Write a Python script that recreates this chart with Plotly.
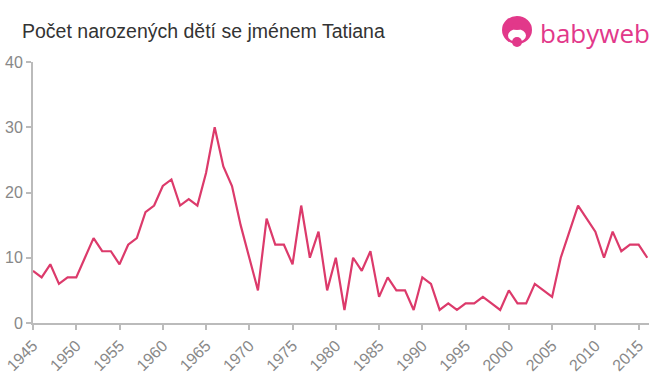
import plotly.graph_objects as go

years = list(range(1945, 2017))
counts = [8, 7, 9, 6, 7, 7, 10, 13, 11, 11, 9, 12, 13, 17, 18, 21, 22, 18, 19, 18,
          23, 30, 24, 21, 15, 10, 5, 16, 12, 12, 9, 18, 10, 14, 5, 10, 2, 10, 8, 11,
          4, 7, 5, 5, 2, 7, 6, 2, 3, 2, 3, 3, 4, 3, 2, 5, 3, 3, 6, 5,
          4, 10, 14, 18, 16, 14, 10, 14, 11, 12, 12, 10]
x_ticks = list(range(1945, 2016, 5))
y_ticks = [0, 10, 20, 30, 40]

fig = go.Figure()
fig.add_trace(go.Scatter(x=years, y=counts, mode="lines",
                         line=dict(color="#dc3a6b", width=2.2), hoverinfo="x+y"))

fig.update_layout(
    width=660, height=375,
    margin=dict(l=33, r=11, t=62, b=52),
    paper_bgcolor="white", plot_bgcolor="white",
    showlegend=False,
    font=dict(family="Liberation Sans, Arial, sans-serif", color="#888"),
    xaxis=dict(range=[1945, 2016.2], tickvals=x_ticks, tickangle=-45, automargin=False,
               showgrid=False, zeroline=False, showline=True, linecolor="#bbb", linewidth=2,
               ticks="outside", tickcolor="#bbb", ticklen=5, tickwidth=2,
               tickfont=dict(size=16, color="#888")),
    yaxis=dict(range=[0, 40], tickvals=y_ticks, automargin=False,
               showgrid=False, zeroline=False, showline=True, linecolor="#bbb", linewidth=2,
               ticks="outside", tickcolor="#bbb", ticklen=5, tickwidth=2,
               tickfont=dict(size=16, color="#888")),
)

fig.add_annotation(text="Počet narozených dětí se jménem Tatiana", xref="paper", yref="paper",
                   x=(20 - 33) / 616, y=(323 - 31) / 261, xanchor="left", yanchor="middle", showarrow=False,
                   font=dict(size=19.5, color="#333", family="Liberation Sans, Arial, sans-serif"))

# logo (pixel coords converted to paper coords)
def px(x):
    return (x - 33) / 616

def py(y):
    return (323 - y) / 261

pink = "#e2388a"
fig.add_shape(type="circle", xref="paper", yref="paper",
              x0=px(502), x1=px(532), y0=py(44), y1=py(16),
              fillcolor=pink, line=dict(width=0))
fig.add_shape(type="circle", xref="paper", yref="paper",
              x0=px(508), x1=px(526), y0=py(42), y1=py(29),
              fillcolor="white", line=dict(width=0))
fig.add_shape(type="circle", xref="paper", yref="paper",
              x0=px(512), x1=px(522), y0=py(47), y1=py(37),
              fillcolor=pink, line=dict(width=0))
fig.add_shape(type="circle", xref="paper", yref="paper",
              x0=px(511), x1=px(523), y0=py(30), y1=py(23),
              fillcolor=pink, line=dict(width=0))
fig.add_annotation(text="babyweb", xref="paper", yref="paper",
                   x=px(538), y=py(33), xanchor="left", yanchor="middle",
                   showarrow=False,
                   font=dict(size=26, color=pink, family="Open Sans, DejaVu Sans, sans-serif"))

fig.write_html("out.html", config={"displayModeBar": False},
               post_script="document.body.style.margin='0';document.body.style.padding='0';")
